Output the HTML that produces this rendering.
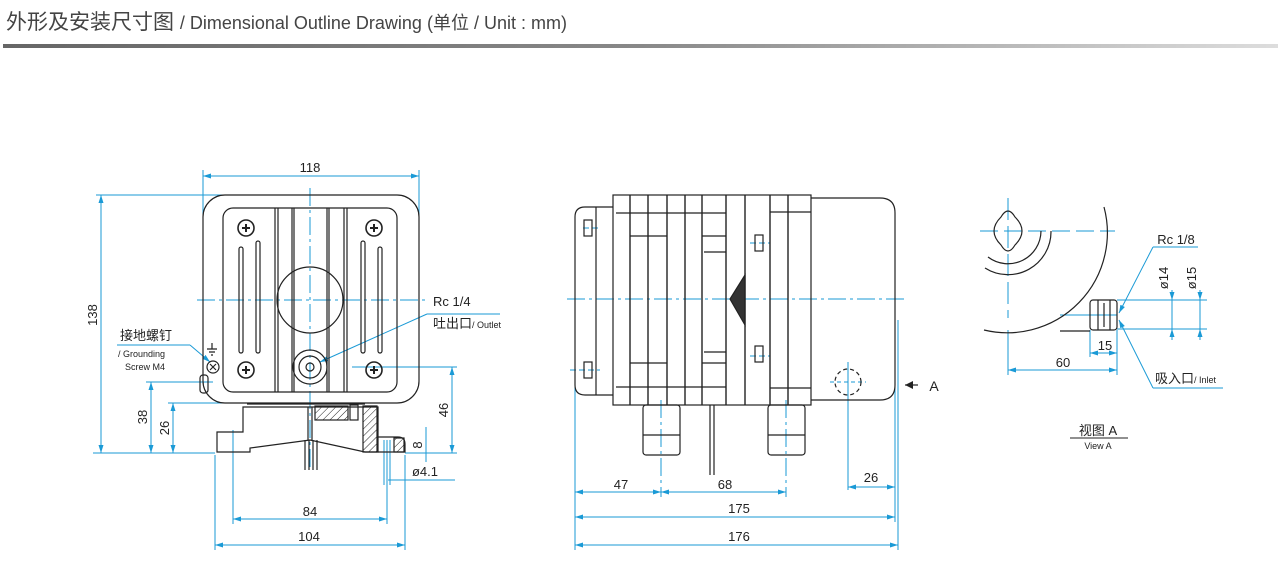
<!DOCTYPE html>
<html><head><meta charset="utf-8"><style>
body{margin:0;background:#fff;width:1278px;height:562px;overflow:hidden;font-family:"Liberation Sans","Noto Sans CJK SC",sans-serif}
.t{position:absolute;left:6px;top:6px;font-size:21px;color:#444;white-space:nowrap}
.t span{font-size:18px}
.bar{position:absolute;left:3px;top:44px;width:1275px;height:4px;background:linear-gradient(90deg,#666,#888 50%,#ddd)}
svg{position:absolute;left:0;top:0}
</style></head><body>
<div class="t">外形及安装尺寸图 <span>/ Dimensional Outline Drawing (单位 / Unit : mm)</span></div>
<div class="bar"></div>
<svg width="1278" height="562" viewBox="0 0 1278 562" font-family="Liberation Sans, Noto Sans CJK SC, sans-serif">
<defs>
<marker id="a" markerWidth="8" markerHeight="6" refX="8" refY="3" orient="auto-start-reverse"><path d="M0,0.5 L8,3 L0,5.5z" fill="#1a9ad6"/></marker>
<pattern id="h" width="5" height="5" patternUnits="userSpaceOnUse" patternTransform="rotate(45)"><line x1="0" y1="0" x2="0" y2="5" stroke="#222" stroke-width="1"/></pattern>
</defs>
<g fill="none" stroke="#1a9ad6" stroke-width="1">
<line x1="203" y1="176" x2="419" y2="176" marker-start="url(#a)" marker-end="url(#a)"/>
<line x1="203" y1="170" x2="203" y2="240"/><line x1="419" y1="170" x2="419" y2="240"/>
<line x1="101" y1="195" x2="101" y2="453" marker-start="url(#a)" marker-end="url(#a)"/>
<line x1="96" y1="195" x2="310" y2="195"/><line x1="93" y1="453" x2="215" y2="453"/>
<line x1="151" y1="382" x2="151" y2="453" marker-start="url(#a)" marker-end="url(#a)"/>
<line x1="146" y1="382" x2="213" y2="382"/>
<line x1="173" y1="403" x2="173" y2="453" marker-start="url(#a)" marker-end="url(#a)"/>
<line x1="168" y1="403" x2="245" y2="403"/>
<line x1="452" y1="367" x2="452" y2="453" marker-start="url(#a)" marker-end="url(#a)"/>
<line x1="352" y1="367" x2="457" y2="367"/><line x1="405" y1="453" x2="457" y2="453"/>
<line x1="426" y1="427" x2="426" y2="462"/>
<line x1="388" y1="480" x2="455" y2="480"/>
<line x1="384" y1="440" x2="384" y2="485"/><line x1="390" y1="440" x2="390" y2="485"/>
<line x1="233" y1="519" x2="387" y2="519" marker-start="url(#a)" marker-end="url(#a)"/>
<line x1="233" y1="430" x2="233" y2="524"/><line x1="387" y1="440" x2="387" y2="524"/>
<line x1="215" y1="545" x2="405" y2="545" marker-start="url(#a)" marker-end="url(#a)"/>
<line x1="215" y1="455" x2="215" y2="550"/><line x1="405" y1="455" x2="405" y2="550"/>
<line x1="197" y1="300" x2="425" y2="300" stroke-dasharray="18,4,3,4"/>
<line x1="310" y1="188" x2="310" y2="470" stroke-dasharray="18,4,3,4"/>
<line x1="427" y1="314" x2="500" y2="314"/><line x1="427" y1="314" x2="320" y2="362" marker-end="url(#a)"/>
<line x1="117" y1="345" x2="190" y2="345"/><line x1="190" y1="345" x2="210" y2="362" marker-end="url(#a)"/>
<line x1="567" y1="299" x2="905" y2="299" stroke-dasharray="18,4,3,4"/>
<line x1="575" y1="385" x2="575" y2="550"/><line x1="895" y1="320" x2="895" y2="522"/><line x1="898" y1="320" x2="898" y2="550"/>
<line x1="661" y1="400" x2="661" y2="497" stroke-dasharray="18,4,3,4"/><line x1="786" y1="400" x2="786" y2="497" stroke-dasharray="18,4,3,4"/>
<line x1="848" y1="362" x2="848" y2="490"/>
<line x1="575" y1="492" x2="661" y2="492" marker-start="url(#a)" marker-end="url(#a)"/>
<line x1="661" y1="492" x2="786" y2="492" marker-start="url(#a)" marker-end="url(#a)"/>
<line x1="848" y1="487" x2="895" y2="487" marker-start="url(#a)" marker-end="url(#a)"/>
<line x1="575" y1="517" x2="895" y2="517" marker-start="url(#a)" marker-end="url(#a)"/>
<line x1="575" y1="545" x2="898" y2="545" marker-start="url(#a)" marker-end="url(#a)"/>
<line x1="830" y1="382" x2="866" y2="382" stroke-dasharray="4,3"/>
<line x1="583" y1="228" x2="600" y2="228" stroke-dasharray="6,3"/><line x1="570" y1="370" x2="600" y2="370" stroke-dasharray="6,3"/>
<line x1="750" y1="243" x2="770" y2="243" stroke-dasharray="6,3"/><line x1="750" y1="356" x2="770" y2="356" stroke-dasharray="6,3"/>
<line x1="980" y1="231" x2="1115" y2="231" stroke-dasharray="18,6"/>
<line x1="1008" y1="198" x2="1008" y2="318" stroke-dasharray="22,6"/>
<line x1="1008" y1="330" x2="1008" y2="375"/>
<line x1="1060" y1="315" x2="1117" y2="315"/>
<line x1="1117" y1="300" x2="1207" y2="300"/><line x1="1117" y1="329" x2="1207" y2="329"/>
<line x1="1172" y1="290" x2="1172" y2="300" marker-end="url(#a)"/><line x1="1172" y1="340" x2="1172" y2="329" marker-end="url(#a)"/><line x1="1172" y1="300" x2="1172" y2="340"/>
<line x1="1200" y1="290" x2="1200" y2="300" marker-end="url(#a)"/><line x1="1200" y1="340" x2="1200" y2="329" marker-end="url(#a)"/><line x1="1200" y1="300" x2="1200" y2="340"/>
<line x1="1090" y1="330" x2="1090" y2="357"/><line x1="1117" y1="330" x2="1117" y2="375"/>
<line x1="1090" y1="353" x2="1117" y2="353" marker-start="url(#a)" marker-end="url(#a)"/>
<line x1="1008" y1="370" x2="1117" y2="370" marker-start="url(#a)" marker-end="url(#a)"/>
<line x1="1153" y1="247" x2="1198" y2="247"/><line x1="1153" y1="247" x2="1119" y2="313" marker-end="url(#a)"/>
<line x1="1153" y1="388" x2="1223" y2="388"/><line x1="1153" y1="388" x2="1119" y2="320" marker-end="url(#a)"/>
</g>
<g fill="none" stroke="#222" stroke-width="1.2">
<rect x="203" y="195" width="216" height="208" rx="22"/>
<rect x="223" y="208" width="174" height="184" rx="10"/>
<line x1="275" y1="208" x2="275" y2="392"/><line x1="278" y1="208" x2="278" y2="392"/>
<line x1="292" y1="208" x2="292" y2="392"/><line x1="294" y1="208" x2="294" y2="392"/>
<line x1="327" y1="208" x2="327" y2="392"/><line x1="329" y1="208" x2="329" y2="392"/>
<line x1="344" y1="208" x2="344" y2="392"/><line x1="347" y1="208" x2="347" y2="392"/>
<rect x="239" y="247" width="4" height="106" rx="2"/><rect x="256" y="241" width="4" height="112" rx="2"/>
<rect x="361" y="241" width="4" height="112" rx="2"/><rect x="378" y="247" width="4" height="106" rx="2"/>
<circle cx="310" cy="300" r="33"/>
<circle cx="310" cy="367" r="17"/><circle cx="310" cy="367" r="11"/><circle cx="310" cy="367" r="4"/>
<g stroke-width="1.6"><circle cx="246" cy="228" r="8"/><circle cx="374" cy="228" r="8"/><circle cx="246" cy="370" r="8"/><circle cx="374" cy="370" r="8"/></g>
<g stroke-width="2"><path d="M242,228h8M246,224v8M370,228h8M374,224v8M242,370h8M246,366v8M370,370h8M374,366v8"/></g>
<circle cx="213" cy="367" r="6"/><path d="M210,364l6,6M216,364l-6,6"/>
<rect x="200" y="375" width="8" height="18" rx="3"/>
<path d="M212,343 v6 M207,349 h10 M209,352 h6 M211,355 h2"/>
<path d="M247,404 H365 M243,407 H378 V452 H365 L310,440 L250,448 V452 H217 V432 H243 Z"/>
<path d="M378,437 H398 Q405,437 405,444 V452 H378"/>
<rect x="315" y="406" width="33" height="14" fill="url(#h)"/>
<path d="M363,406 H377 V452 H363 Z" fill="url(#h)"/>
<rect x="394" y="438" width="10" height="14" fill="url(#h)"/>
<rect x="350" y="405" width="8" height="15"/>
<path d="M308,407 V440 M312,407 V440"/>
<path d="M305,440 V470 M309,440 V470 M313,440 V470 M317,440 V470"/>
<rect x="613" y="195" width="198" height="210"/>
<path d="M613,207 H585 Q575,207 575,217 V385 Q575,395 585,395 H613"/>
<line x1="596" y1="207" x2="596" y2="395"/>
<path d="M811,198 H880 Q895,198 895,213 V385 Q895,400 880,400 H811"/>
<g stroke-width="1.4">
<line x1="630" y1="195" x2="630" y2="405"/><line x1="648" y1="195" x2="648" y2="405"/><line x1="667" y1="195" x2="667" y2="405"/>
<line x1="685" y1="195" x2="685" y2="405"/><line x1="702" y1="195" x2="702" y2="405"/><line x1="726" y1="195" x2="726" y2="405"/>
<line x1="745" y1="195" x2="745" y2="405"/><line x1="770" y1="195" x2="770" y2="405"/><line x1="788" y1="195" x2="788" y2="405"/>
</g>
<path d="M616,213 H726 M616,387 H726 M770,212 H811 M770,388 H811 M630,236 H667 M630,363 H667 M702,236 H726 M702,363 H726"/>
<path d="M704,252 H726 M704,352 H726"/>
<path d="M745,275 L730,299 L745,325 Z" fill="#333"/>
<rect x="755" y="235" width="8" height="16"/><rect x="755" y="346" width="8" height="16"/>
<rect x="584" y="220" width="8" height="16"/><rect x="584" y="362" width="8" height="16"/>
<rect x="643" y="405" width="37" height="50" rx="3"/><path d="M643,435 H680"/>
<rect x="768" y="405" width="37" height="50" rx="3"/><path d="M768,435 H805"/>
<path d="M710,405 V475 M714,405 V475"/>
<circle cx="848" cy="382" r="13" stroke-dasharray="4,3"/>
<path d="M1001,217 Q1008,205 1015,217 Q1022,224 1022,231 Q1022,238 1015,245 Q1008,257 1001,245 Q994,238 994,231 Q994,224 1001,217 Z"/>
<path d="M1041,231 A33,33 0 0 1 988,257"/>
<path d="M1051,231 A43,43 0 0 1 985,268"/>
<path d="M1104,207 A100,100 0 0 1 984,330"/>
<path d="M1060,331 L1090,331"/>
<rect x="1090" y="300" width="27" height="30" rx="3"/>
<path d="M1098,300 V330 M1104,303 V327 M1110,300 V330"/>
</g>
<path d="M905,385 H918" stroke="#222" stroke-width="1.2"/><path d="M905,385 L913,381 L913,389Z" fill="#222"/>
<g fill="#222" font-size="13" text-anchor="middle">
<text x="310" y="172">118</text>
<text transform="translate(97,315) rotate(-90)">138</text>
<text transform="translate(147,417) rotate(-90)">38</text>
<text transform="translate(169,428) rotate(-90)">26</text>
<text transform="translate(448,410) rotate(-90)">46</text>
<text transform="translate(422,445) rotate(-90)">8</text>
<text x="425" y="476">ø4.1</text>
<text x="310" y="516">84</text>
<text x="309" y="541">104</text>
<text x="433" y="306" text-anchor="start">Rc 1/4</text>
<text x="433" y="328" text-anchor="start">吐出口<tspan font-size="9">/ Outlet</tspan></text>
<text x="120" y="340" text-anchor="start">接地螺钉</text>
<text x="118" y="357" text-anchor="start" font-size="9">/ Grounding</text>
<text x="125" y="370" text-anchor="start" font-size="9">Screw M4</text>
<text x="621" y="489">47</text><text x="725" y="489">68</text><text x="871" y="482">26</text>
<text x="739" y="513">175</text><text x="739" y="541">176</text>
<text x="934" y="391" font-size="14">A</text>
<text x="1176" y="244">Rc 1/8</text>
<text transform="translate(1168,278) rotate(-90)">ø14</text>
<text transform="translate(1196,278) rotate(-90)">ø15</text>
<text x="1105" y="350">15</text><text x="1063" y="367">60</text>
<text x="1155" y="383" text-anchor="start">吸入口<tspan font-size="9">/ Inlet</tspan></text>
<text x="1098" y="435">视图 A</text>
<text x="1098" y="449" font-size="9">View A</text>
</g>
<line x1="1070" y1="438" x2="1128" y2="438" stroke="#222"/>
</svg>
</body></html>
